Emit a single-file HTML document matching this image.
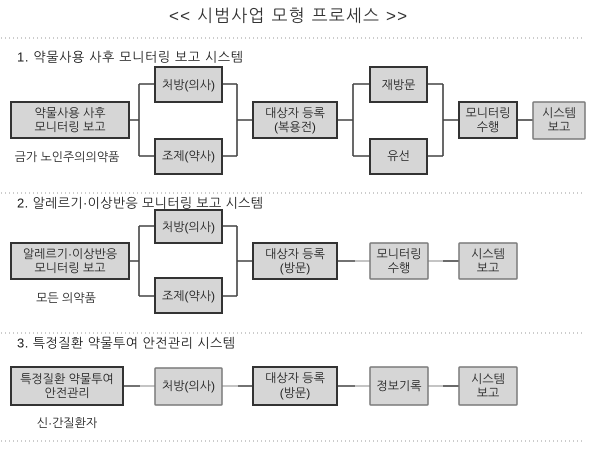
<!DOCTYPE html>
<html><head><meta charset="utf-8">
<style>
html,body{margin:0;padding:0;background:#fff;}
svg{display:block;}
text{font-family:"Liberation Sans","NanumGothic","Noto Sans CJK KR",sans-serif;fill:#222;}
.t{font-size:12px;text-anchor:middle;dominant-baseline:central;}
.h{font-size:13px;dominant-baseline:central;fill:#1a1a1a;}
.d{fill:#d6d6d6;stroke:#333;stroke-width:2;}
.l{fill:#d6d6d6;stroke:#7a7a7a;stroke-width:1.5;}
.c{stroke:#444;stroke-width:1.6;fill:none;}
.g{stroke:#8a8a8a;stroke-width:1;fill:none;}
.dot{stroke:#9a9a9a;stroke-width:1;stroke-dasharray:1 3;}
</style></head>
<body>
<svg width="600" height="457" viewBox="0 0 600 457" xmlns="http://www.w3.org/2000/svg">
<!-- Title -->
<text x="288" y="16" font-size="17" text-anchor="middle" dominant-baseline="central" textLength="238" style="fill:#333">&lt;&lt; 시범사업 모형 프로세스 &gt;&gt;</text>
<line class="dot" x1="1" y1="38" x2="584" y2="38"/>

<!-- Section 1 -->
<text class="h" x="17" y="57" textLength="226">1. 약물사용 사후 모니터링 보고 시스템</text>
<!-- connectors -->
<path class="c" d="M129 120 H139 M139 84 V156 M139 84 H155 M139 156 H155"/>
<path class="c" d="M222 84 H237 M222 156 H237 M237 84 V156 M237 120 H253"/>
<path class="c" d="M337 120 H353 M353 84 V156 M353 84 H370 M353 156 H370"/>
<path class="c" d="M427 84 H443 M427 156 H443 M443 84 V156 M443 120 H459"/>
<path class="c" d="M517 120 H533"/>
<rect class="d" x="11" y="102" width="118" height="36"/>
<text class="t" x="70" y="113">약물사용 사후</text>
<text class="t" x="70" y="127">모니터링 보고</text>
<text class="t" x="67" y="157" style="text-anchor:middle">금가 노인주의의약품</text>
<rect class="d" x="155" y="67" width="67" height="35"/>
<text class="t" x="188.5" y="85">처방(의사)</text>
<rect class="d" x="155" y="139" width="67" height="35"/>
<text class="t" x="188.5" y="156">조제(약사)</text>
<rect class="d" x="253" y="102" width="84" height="36"/>
<text class="t" x="295" y="113">대상자 등록</text>
<text class="t" x="295" y="127">(복용전)</text>
<rect class="d" x="370" y="67" width="57" height="35"/>
<text class="t" x="398.5" y="85">재방문</text>
<rect class="d" x="370" y="139" width="57" height="35"/>
<text class="t" x="398.5" y="156">유선</text>
<rect class="d" x="459" y="102" width="58" height="36"/>
<text class="t" x="488" y="113">모니터링</text>
<text class="t" x="488" y="127">수행</text>
<rect class="l" x="533" y="102" width="52" height="37" rx="1"/>
<text class="t" x="559" y="113">시스템</text>
<text class="t" x="559" y="127">보고</text>

<!-- Section 2 -->
<line class="dot" x1="1" y1="193" x2="584" y2="193"/>
<text class="h" x="17" y="203" textLength="246">2. 알레르기·이상반응 모니터링 보고 시스템</text>
<path class="c" d="M129 261 H139 M139 226 V296 M139 226 H155 M139 296 H155"/>
<path class="c" d="M222 226 H237 M222 296 H237 M237 226 V296 M237 261 H253"/>
<path class="c" d="M337 261 H355"/>
<path class="g" d="M355 261 H370 M428 261 H443"/>
<path class="c" d="M443 261 H459"/>
<rect class="d" x="11" y="243" width="118" height="36"/>
<text class="t" x="70" y="254">알레르기·이상반응</text>
<text class="t" x="70" y="268">모니터링 보고</text>
<text class="t" x="66" y="298">모든 의약품</text>
<rect class="d" x="155" y="210" width="67" height="33"/>
<text class="t" x="188.5" y="227">처방(의사)</text>
<rect class="d" x="155" y="278" width="67" height="35"/>
<text class="t" x="188.5" y="296">조제(약사)</text>
<rect class="d" x="253" y="243" width="84" height="36"/>
<text class="t" x="295" y="254">대상자 등록</text>
<text class="t" x="295" y="268">(방문)</text>
<rect class="l" x="370" y="243" width="58" height="36" rx="1"/>
<text class="t" x="399" y="254">모니터링</text>
<text class="t" x="399" y="268">수행</text>
<rect class="l" x="459" y="243" width="58" height="36" rx="1"/>
<text class="t" x="488" y="254">시스템</text>
<text class="t" x="488" y="268">보고</text>

<!-- Section 3 -->
<line class="dot" x1="1" y1="333" x2="584" y2="333"/>
<text class="h" x="17" y="343" textLength="218">3. 특정질환 약물투여 안전관리 시스템</text>
<path class="c" d="M123 386 H140"/>
<path class="g" d="M140 386 H155 M222 386 H238"/>
<path class="c" d="M238 386 H253 M337 386 H355"/>
<path class="g" d="M355 386 H370 M428 386 H443"/>
<path class="c" d="M443 386 H459"/>
<rect class="d" x="11" y="367" width="112" height="38"/>
<text class="t" x="67" y="379">특정질환 약물투여</text>
<text class="t" x="67" y="393">안전관리</text>
<text class="t" x="67" y="423">신·간질환자</text>
<rect class="l" x="155" y="368" width="67" height="37" rx="1"/>
<text class="t" x="188.5" y="386">처방(의사)</text>
<rect class="d" x="253" y="367" width="84" height="38"/>
<text class="t" x="295" y="378">대상자 등록</text>
<text class="t" x="295" y="393">(방문)</text>
<rect class="l" x="370" y="367" width="58" height="38" rx="1"/>
<text class="t" x="399" y="386">정보기록</text>
<rect class="l" x="459" y="367" width="58" height="38" rx="1"/>
<text class="t" x="488" y="379">시스템</text>
<text class="t" x="488" y="393">보고</text>

<line class="dot" x1="1" y1="441" x2="584" y2="441"/>
</svg>
</body></html>
